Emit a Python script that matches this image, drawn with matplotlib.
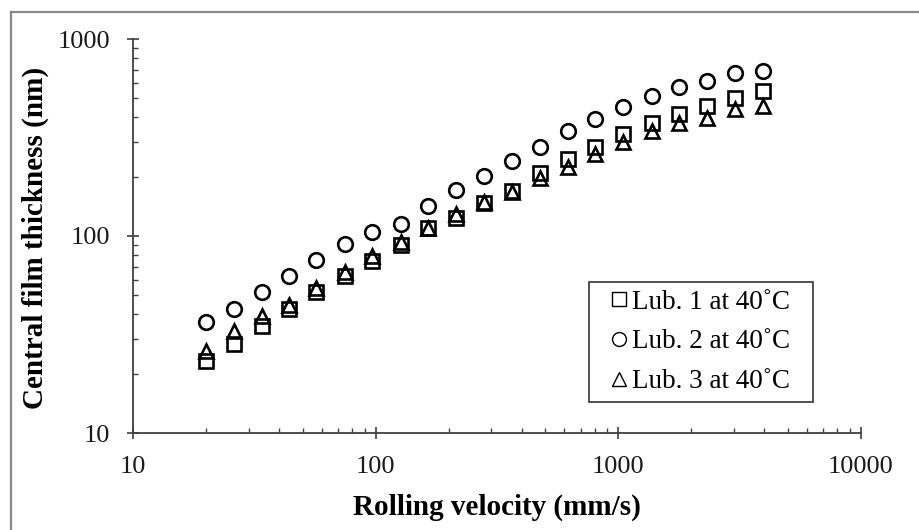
import matplotlib
matplotlib.use("Agg")
import matplotlib.pyplot as plt
from matplotlib.lines import Line2D
from matplotlib.patches import Rectangle
from matplotlib.ticker import LogLocator, NullFormatter, FixedLocator, FixedFormatter

# Data
velocity = [20, 26, 34, 44, 57, 75, 97, 127, 165, 215, 280, 365, 475, 620,
            805, 1050, 1370, 1780, 2320, 3020, 3940]
lub1 = [23.3, 28.4, 35.0, 42.6, 51.9, 62.3, 74.8, 90.2, 109.6, 123.3, 146.8,
        170.1, 209.9, 245.5, 284.4, 329.8, 373.7, 415, 459, 504, 547]
lub2 = [36.6, 42.6, 51.7, 62.3, 75.1, 91.0, 105.4, 115.3, 142.3, 170.5, 202,
        240.6, 284.4, 341.6, 391.5, 453.6, 514, 569, 612, 670, 688]
lub3 = [26.0, 32.8, 39.1, 44.8, 54.4, 65.3, 78.7, 93.1, 109.6, 129.6, 149.6,
        168.2, 196.6, 225, 261, 301.5, 342.8, 376.3, 396, 440, 457]
series_labels = ["Lub. 1 at 40\u02daC", "Lub. 2 at 40\u02daC", "Lub. 3 at 40\u02daC"]
xticks = [10, 100, 1000, 10000]
yticks = [10, 100, 1000]

plt.rcParams['font.family'] = ['Liberation Serif', 'DejaVu Serif']

W, H = 919, 530
AX_L, AX_R, AX_T, AX_B = 133, 861, 39, 433
fig = plt.figure(figsize=(W / 100, H / 100), dpi=100)
ax = fig.add_axes([AX_L / W, (H - AX_B) / H, (AX_R - AX_L) / W, (AX_B - AX_T) / H])

ms = 10.5
mew = 1.9
ax.plot(velocity, lub1, linestyle='none', marker='s', ms=ms * 0.95, mfc='none',
        mec='black', mew=mew, zorder=3)
ax.plot(velocity, lub2, linestyle='none', marker='o', ms=ms, mfc='none',
        mec='black', mew=mew, zorder=3)
ax.plot(velocity, lub3, linestyle='none', marker='^', ms=ms, mfc='none',
        mec='black', mew=mew, zorder=3)

ax.set_xscale('log')
ax.set_yscale('log')
ax.set_xlim(10, 10000)
ax.set_ylim(10, 1000)

axis_color = '#404040'
for s in ['top', 'right']:
    ax.spines[s].set_visible(False)
for s in ['left', 'bottom']:
    ax.spines[s].set_color(axis_color)
    ax.spines[s].set_linewidth(1.3)

ax.xaxis.set_major_locator(FixedLocator(xticks))
ax.xaxis.set_major_formatter(FixedFormatter([str(v) for v in xticks]))
ax.yaxis.set_major_locator(FixedLocator(yticks))
ax.yaxis.set_major_formatter(FixedFormatter([str(v) for v in yticks]))
ax.xaxis.set_minor_locator(LogLocator(base=10, subs=range(2, 10)))
ax.yaxis.set_minor_locator(LogLocator(base=10, subs=range(2, 10)))
ax.xaxis.set_minor_formatter(NullFormatter())
ax.yaxis.set_minor_formatter(NullFormatter())

ax.tick_params(which='major', direction='inout', length=9, width=1.2,
               color=axis_color, labelsize=19, labelcolor='#1a1a1a', pad=12)
ax.tick_params(which='minor', direction='in', length=3.5, width=1.0,
               color=axis_color)

fig.text((AX_L + AX_R) / 2 / W, (H - 507) / H, "Rolling velocity (mm/s)",
         ha='center', va='center', fontsize=21, fontweight='bold')
fig.text(35 / W, (H - 238) / H, "Central film thickness (nm)",
         ha='center', va='center', rotation=90, fontsize=21, fontweight='bold')

# legend box (drawn manually, wider horizontal padding as in the reference)
def ax_x(px):
    return (px - AX_L) / (AX_R - AX_L)

def ax_y(py):
    return (AX_B - py) / (AX_B - AX_T)

box_l, box_r, box_t, box_b = 589, 813, 282, 402
ax.add_patch(Rectangle((ax_x(box_l), ax_y(box_b)), ax_x(box_r) - ax_x(box_l),
                       ax_y(box_t) - ax_y(box_b), transform=ax.transAxes,
                       facecolor='white', edgecolor='#333333', lw=1.2, zorder=4))

handles = [
    Line2D([], [], linestyle='none', marker='s', ms=10, mfc='none', mec='black', mew=1.0),
    Line2D([], [], linestyle='none', marker='o', ms=10, mfc='none', mec='black', mew=1.0),
    Line2D([], [], linestyle='none', marker='^', ms=10, mfc='none', mec='black', mew=1.0),
]
leg = ax.legend(handles, series_labels, loc='center',
                bbox_to_anchor=(ax_x((box_l + box_r) / 2), ax_y((box_t + box_b) / 2)),
                fontsize=19.5, frameon=False,
                handlelength=0.55, handletextpad=0.2, borderpad=0.0,
                borderaxespad=0, labelspacing=0.55)
leg.set_zorder(5)

# figure frame (top and left edges visible in the reference)
fig.add_artist(Line2D([11 / W, 11 / W], [0, (H - 12) / H], transform=fig.transFigure,
                      color='#888888', lw=1.6))
fig.add_artist(Line2D([11 / W, 1], [(H - 12) / H, (H - 12) / H], transform=fig.transFigure,
                      color='#888888', lw=1.6))

fig.savefig('out.png', dpi=100)
